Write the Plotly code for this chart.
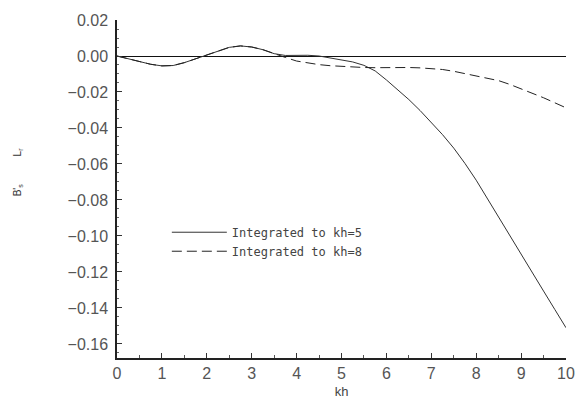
import plotly.graph_objects as go

# Wavenumber samples (kh) and the integrated B' response for two upper limits
kh = [0.0, 0.25, 0.5, 0.75, 1.0, 1.25, 1.5, 1.75, 2.0, 2.25, 2.5, 2.75, 3.0,
      3.25, 3.5, 3.75, 4.0, 4.25, 4.5, 4.75, 5.0, 5.25, 5.5, 5.75, 6.0, 6.25,
      6.5, 6.75, 7.0, 7.25, 7.5, 7.75, 8.0, 8.25, 8.5, 8.75, 9.0, 9.25, 9.5,
      9.75, 10.0]

to_kh5 = [0.0, -0.0015, -0.003, -0.0046, -0.0055, -0.0053, -0.0037, -0.0016,
          0.0005, 0.003, 0.0048, 0.0056, 0.005, 0.0035, 0.0013, 0.0003,
          0.0005, 0.0004, 0.0, -0.001, -0.002, -0.0033, -0.0052, -0.0083,
          -0.0133, -0.0185, -0.0242, -0.0303, -0.0368, -0.0437, -0.0512,
          -0.0597, -0.0690, -0.0793, -0.0900, -0.1005, -0.1108, -0.1207,
          -0.1306, -0.1408, -0.151]

to_kh8 = [0.0, -0.0015, -0.003, -0.0046, -0.0055, -0.0053, -0.0037, -0.0016,
          0.0005, 0.003, 0.0048, 0.0056, 0.005, 0.0035, 0.0012, -0.0008,
          -0.0028, -0.004, -0.0048, -0.0054, -0.0058, -0.0062, -0.0064,
          -0.0065, -0.0064, -0.0064, -0.0064, -0.0066, -0.0069, -0.0075,
          -0.0085, -0.0098, -0.011, -0.0122, -0.0137, -0.0158, -0.0183,
          -0.0205, -0.0232, -0.026, -0.0288]

series_names = ["Integrated to kh=5", "Integrated to kh=8"]

x_ticks = list(range(0, 11))
y_ticks = [0.02, 0.0, -0.02, -0.04, -0.06, -0.08, -0.10, -0.12, -0.14, -0.16]
y_tick_text = ["0.02", "0.00", "\u22120.02", "\u22120.04", "\u22120.06",
               "\u22120.08", "\u22120.10", "\u22120.12", "\u22120.14",
               "\u22120.16"]

fig = go.Figure()
fig.add_trace(go.Scatter(x=kh, y=to_kh5, mode="lines", name=series_names[0],
                         line=dict(color="#333333", width=1)))
fig.add_trace(go.Scatter(x=kh, y=to_kh8, mode="lines", name=series_names[1],
                         line=dict(color="#222222", width=1,
                                   dash="10px,5px")))

tick_font = dict(family="Liberation Sans", size=16, color="#555555")

fig.update_layout(
    width=576, height=407,
    margin=dict(l=117, r=10, t=20, b=49),
    paper_bgcolor="white", plot_bgcolor="white",
    showlegend=True,
    legend=dict(x=0.111, y=0.415, xanchor="left", yanchor="top",
                bgcolor="rgba(0,0,0,0)", borderwidth=0,
                font=dict(family="DejaVu Sans Mono", size=12,
                          color="#444444"),
                tracegroupgap=0, itemwidth=55),
    xaxis=dict(range=[0, 10], tickvals=x_ticks,
               ticktext=[str(v) for v in x_ticks], automargin=False,
               ticks="inside", ticklen=5, tickcolor="#333333",
               showline=True, linecolor="#222222", linewidth=1.5,
               showgrid=False, zeroline=False, tickfont=tick_font,
               minor=dict(dtick=0.5, ticks="inside", ticklen=3,
                          tickcolor="#555555", showgrid=False),
               title=dict(text="kh", font=dict(family="Liberation Sans",
                                                size=13, color="#444444"),
                          standoff=6)),
    yaxis=dict(range=[-0.1678, 0.02], tickvals=y_ticks, ticktext=y_tick_text,
               automargin=False, ticklabelstandoff=4,
               ticks="inside", ticklen=5, tickcolor="#333333",
               showline=True, linecolor="#222222", linewidth=1.5,
               showgrid=False, zeroline=True, zerolinecolor="#111111",
               zerolinewidth=1.2, tickfont=tick_font,
               minor=dict(dtick=0.005, ticks="inside", ticklen=2,
                          tickcolor="#666666", showgrid=False)),
    annotations=[dict(
        text="B'<sub>s</sub>\u00a0\u00a0\u00a0\u00a0\u00a0\u00a0\u00a0\u00a0\u00a0\u00a0L<sub>r</sub>",
        xref="paper", yref="paper", x=-0.22, y=0.55,
        xanchor="center", yanchor="middle", textangle=-90, showarrow=False,
        font=dict(family="Liberation Sans", size=10, color="#333333"))],
)

fig.write_html("out.html")
